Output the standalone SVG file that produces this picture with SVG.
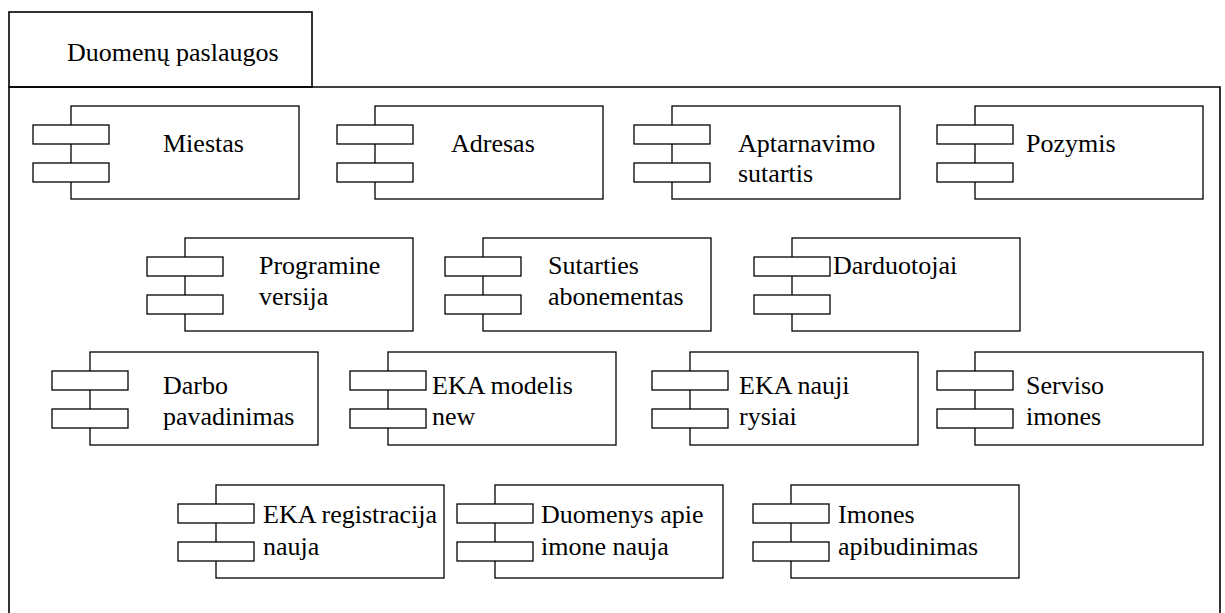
<svg xmlns="http://www.w3.org/2000/svg" width="1225" height="613" viewBox="0 0 1225 613">
  <style>
    .frame { fill: none; stroke: #000; stroke-width: 1.6; }
    .body { fill: #fff; stroke: #000; stroke-width: 1.3; }
    .stub { fill: #fff; stroke: #000; stroke-width: 1.3; }
    .lbl { font-size: 26px; fill: #000; }
  </style>
  <defs>
    <!-- UML component symbol: main box with two interface stubs on the left edge -->
    <g id="comp">
      <rect class="body" x="0" y="0" width="228" height="93"/>
      <rect class="stub" x="-38" y="19" width="76" height="19"/>
      <rect class="stub" x="-38" y="57" width="76" height="19"/>
    </g>
  </defs>
  <rect width="1225" height="613" fill="#fff"/>

  <g font-family="'Liberation Serif', 'Times New Roman', 'DejaVu Serif', serif">
  <!-- package frame with its name tab -->
  <g id="package">
    <rect class="frame" x="9" y="12" width="303" height="75"/>
    <path class="frame" d="M9 87 V613 M9 87 H1220 V613"/>
    <text class="lbl" x="67" y="61">Duomenų paslaugos</text>
  </g>

  <g id="connectors"></g>

  <!-- row 1 -->
  <g id="miestas">
    <use href="#comp" x="71" y="106"/>
    <text class="lbl" x="163" y="152">Miestas</text>
  </g>
  <g id="adresas">
    <use href="#comp" x="375" y="106"/>
    <text class="lbl" x="451" y="152">Adresas</text>
  </g>
  <g id="aptarnavimo-sutartis">
    <use href="#comp" x="672" y="106"/>
    <text class="lbl" x="738" y="152">Aptarnavimo</text>
    <text class="lbl" x="738" y="182">sutartis</text>
  </g>
  <g id="pozymis">
    <use href="#comp" x="975" y="106"/>
    <text class="lbl" x="1026" y="152">Pozymis</text>
  </g>

  <!-- row 2 -->
  <g id="programine-versija">
    <use href="#comp" x="185" y="238"/>
    <text class="lbl" x="259" y="274">Programine</text>
    <text class="lbl" x="259" y="305">versija</text>
  </g>
  <g id="sutarties-abonementas">
    <use href="#comp" x="483" y="238"/>
    <text class="lbl" x="548" y="274">Sutarties</text>
    <text class="lbl" x="548" y="305">abonementas</text>
  </g>
  <g id="darduotojai">
    <use href="#comp" x="792" y="238"/>
    <text class="lbl" x="833" y="274">Darduotojai</text>
  </g>

  <!-- row 3 -->
  <g id="darbo-pavadinimas">
    <use href="#comp" x="90" y="352"/>
    <text class="lbl" x="163" y="394">Darbo</text>
    <text class="lbl" x="163" y="425">pavadinimas</text>
  </g>
  <g id="eka-modelis-new">
    <use href="#comp" x="388" y="352"/>
    <text class="lbl" x="432" y="394">EKA modelis</text>
    <text class="lbl" x="432" y="425">new</text>
  </g>
  <g id="eka-nauji-rysiai">
    <use href="#comp" x="690" y="352"/>
    <text class="lbl" x="739" y="394">EKA nauji</text>
    <text class="lbl" x="739" y="425">rysiai</text>
  </g>
  <g id="serviso-imones">
    <use href="#comp" x="975" y="352"/>
    <text class="lbl" x="1026" y="394">Serviso</text>
    <text class="lbl" x="1026" y="425">imones</text>
  </g>

  <!-- row 4 -->
  <g id="eka-registracija-nauja">
    <use href="#comp" x="216" y="485"/>
    <text class="lbl" x="263" y="523">EKA registracija</text>
    <text class="lbl" x="263" y="555">nauja</text>
  </g>
  <g id="duomenys-apie-imone-nauja">
    <use href="#comp" x="495" y="485"/>
    <text class="lbl" x="541" y="523">Duomenys apie</text>
    <text class="lbl" x="541" y="555">imone nauja</text>
  </g>
  <g id="imones-apibudinimas">
    <use href="#comp" x="791" y="485"/>
    <text class="lbl" x="838" y="523">Imones</text>
    <text class="lbl" x="838" y="555">apibudinimas</text>
  </g>
  </g>
</svg>
